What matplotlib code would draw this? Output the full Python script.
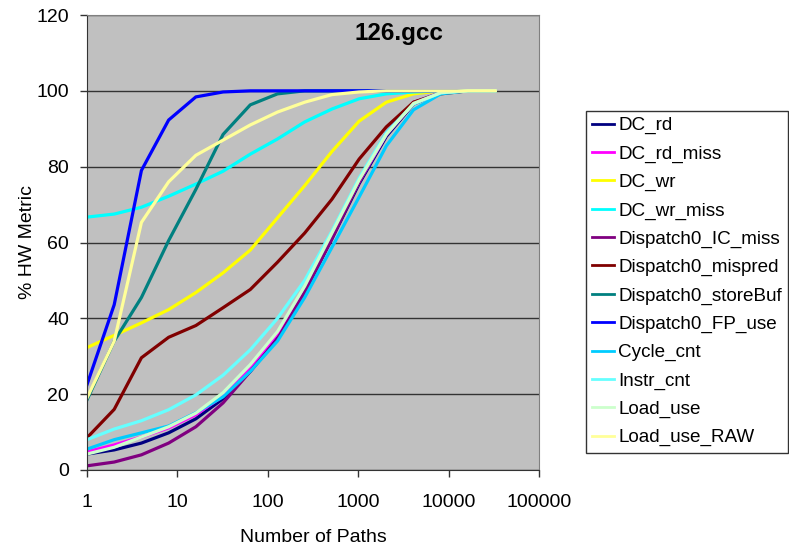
import numpy as np
import matplotlib
matplotlib.use('Agg')
import matplotlib.pyplot as plt

plt.rcParams['font.family'] = ['Liberation Sans', 'DejaVu Sans']

# number of paths (powers of two)
paths = [1, 2, 4, 8, 16, 32, 64, 128, 256, 512, 1024, 2048, 4096, 8192, 16384, 32768]

dc_rd = [4.2, 5.3, 7.1, 9.8, 13.5, 18.8, 26, 35, 47, 61, 75.5, 88, 96.5, 99.5, 100, 100]
dc_rd_miss = [4.8, 6.6, 8.7, 11.1, 14.6, 19.5, 27, 36, 48, 62, 76, 88.5, 96.7, 99.5, 100, 100]
dc_wr = [32.3, 35.5, 38.8, 42.3, 46.8, 52, 58, 66.5, 75, 84, 92, 97, 99.2, 100, 100, 100]
dc_wr_miss = [66.7, 67.5, 69.3, 72.2, 75.4, 78.8, 83.3, 87.3, 91.8, 95.2, 97.9, 99.2, 99.7, 100, 100, 100]
ic_miss = [1.1, 2.1, 4.0, 7.1, 11.4, 17.7, 26, 34.5, 47, 61, 76, 89, 97, 99.5, 100, 100]
mispred = [8.5, 16, 29.6, 35, 38.1, 42.8, 47.6, 54.8, 62.5, 71.4, 82, 90.5, 97, 99.2, 100, 100]
store_buf = [18.5, 34, 45.5, 60.5, 74, 88.5, 96.3, 99.2, 100, 100, 100, 100, 100, 100, 100, 100]
fp_use = [22.5, 43.6, 79, 92.3, 98.4, 99.7, 100, 100, 100, 100, 100, 100, 100, 100, 100, 100]
cycle_cnt = [5.5, 8, 9.8, 11.6, 15.1, 19.3, 26, 34, 45.5, 58.7, 72, 85.5, 95, 99.2, 100, 100]
instr_cnt = [8, 10.8, 13, 15.9, 19.8, 25, 31.7, 40, 50, 63, 77, 89, 96.5, 99.5, 100, 100]
load_use = [4.2, 6, 8.7, 11.4, 15, 20.4, 27.8, 36.5, 48.5, 62.5, 76.5, 88.5, 96.7, 99.5, 100, 100]
load_use_raw = [19, 34, 65.3, 76, 83, 87, 91, 94.4, 97, 99, 99.7, 100, 100, 100, 100, 100]

names = ['DC_rd', 'DC_rd_miss', 'DC_wr', 'DC_wr_miss', 'Dispatch0_IC_miss',
         'Dispatch0_mispred', 'Dispatch0_storeBuf', 'Dispatch0_FP_use',
         'Cycle_cnt', 'Instr_cnt', 'Load_use', 'Load_use_RAW']
series = [dc_rd, dc_rd_miss, dc_wr, dc_wr_miss, ic_miss, mispred, store_buf,
          fp_use, cycle_cnt, instr_cnt, load_use, load_use_raw]
colors = ['#000080', '#FF00FF', '#FFFF00', '#00FFFF', '#800080', '#800000',
          '#008080', '#0000FF', '#00CCFF', '#66FFFF', '#CCFFCC', '#FFFF99']

fig = plt.figure(figsize=(7.89, 5.5), dpi=100)
ax = fig.add_axes([87/789, 1-470/550, (539-87)/789, (470-15)/550])
ax.set_facecolor('#C0C0C0')

for name, vals, c in zip(names, series, colors):
    ax.plot(paths, vals, color=c, lw=2.3, label=name)

ax.set_xscale('log')
ax.set_xlim(1, 100000)
ax.set_ylim(0, 120)
ax.set_xticks([1, 10, 100, 1000, 10000, 100000])
ax.set_xticklabels(['1', '10', '100', '1000', '10000', '100000'])
ax.xaxis.set_minor_locator(matplotlib.ticker.NullLocator())
ax.set_yticks(range(0, 121, 20))
ax.yaxis.grid(True, color='#333333', lw=1)
ax.set_axisbelow(True)
ax.tick_params(axis='both', labelsize=14, length=5, width=1, color='#333333')
ax.tick_params(axis='x', pad=12)
ax.tick_params(axis='y', pad=8)
for s in ['top', 'right']:
    ax.spines[s].set_color('#808080')
for s in ['left', 'bottom']:
    ax.spines[s].set_color('#333333')

ax.set_xlabel('Number of Paths', fontsize=14, labelpad=13)
ax.set_ylabel('% HW Metric', fontsize=14, labelpad=0)
ax.text(0.69, 0.945, '126.gcc', transform=ax.transAxes, fontsize=17.5,
        fontweight='bold', ha='center', va='baseline')

leg = fig.legend(loc='upper left', bbox_to_anchor=(586/789, 1-111/550),
                 fontsize=13.6, frameon=True, fancybox=False, edgecolor='black',
                 handlelength=1.15, handletextpad=0.25, labelspacing=0.58,
                 borderpad=0.32, borderaxespad=0)
leg.get_frame().set_linewidth(1)
for h in leg.get_lines():
    h.set_linewidth(2)

fig.savefig('out.png', dpi=100)
